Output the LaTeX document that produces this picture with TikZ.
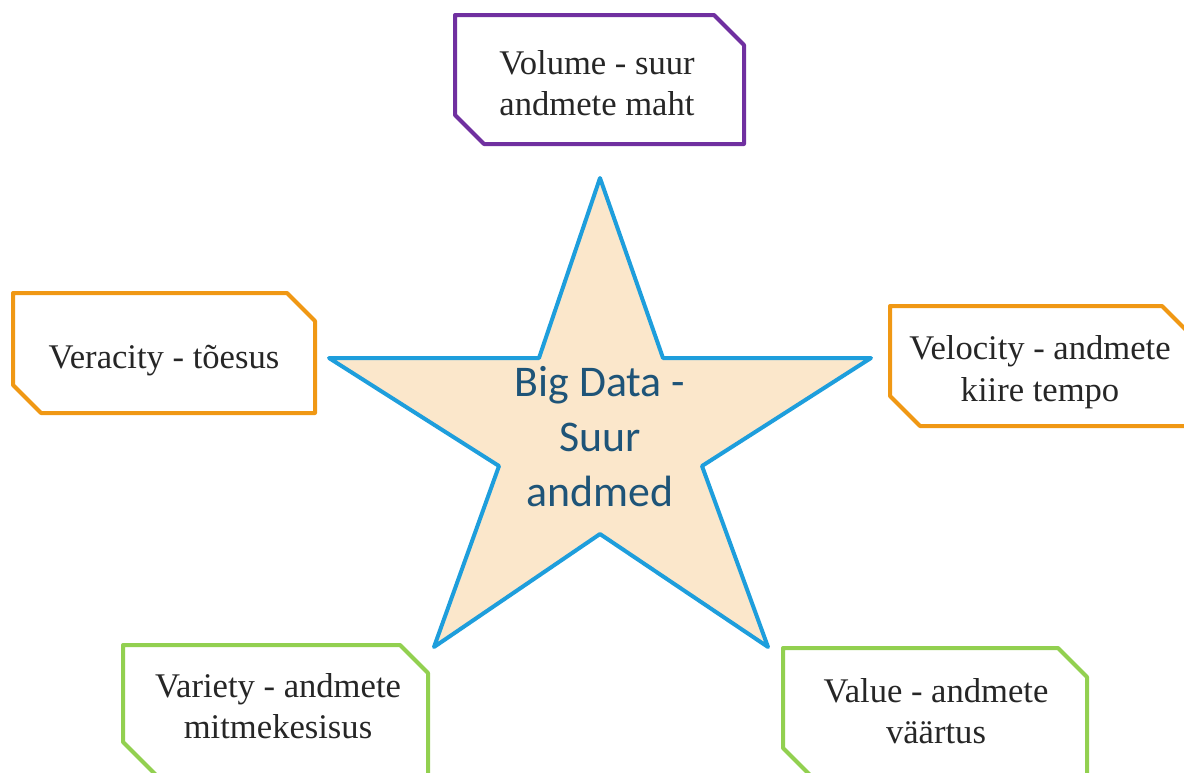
\documentclass[tikz,border=0pt]{standalone}
\usepackage{fontspec}
\setmainfont{Liberation Serif}
\newfontfamily\starfont{Carlito}
\definecolor{vpurple}{RGB}{112,48,160}
\definecolor{vorange}{RGB}{240,152,20}
\definecolor{vgreen}{RGB}{146,208,80}
\definecolor{starblue}{RGB}{30,158,220}
\definecolor{starfill}{RGB}{251,231,203}
\definecolor{startext}{RGB}{30,84,120}
\begin{document}
\begin{tikzpicture}[x=0.5pt,y=-0.5pt,line join=round,line cap=round,
	frame/.style={line width=2pt,fill=white},
	lbl/.style={align=center,inner sep=0pt,text=black!85,font=\fontsize{17.3}{20.8}\selectfont},
	starlbl/.style={align=center,inner sep=0pt,text=startext,font=\starfont\fontsize{21.9}{27.5}\selectfont}]
	\clip (0,0) rectangle (1184,772);
	% tipud ja nurgad
	\path
	(600,178) coordinate (T)
	(663,358) coordinate (TR)
	(871,358) coordinate (R)
	(702,466) coordinate (RI)
	(768,647) coordinate (BR)
	(600,534) coordinate (B)
	(434,647) coordinate (BL)
	(499,466) coordinate (LI)
	(329,358) coordinate (L)
	(539,358) coordinate (TL);
	% taht keskel
	\draw[line width=2pt,draw=starblue,fill=starfill] (T)--(TR)--(R)--(RI)--(BR)--(B)--(BL)--(LI)--(L)--(TL)--cycle;
	\node[starlbl] (big) at (600,437) {Big Data -\\Suur\\andmed};
	% kastid, lõigatud nurgad
	\draw[frame,draw=vpurple] (455,15)--(714,15)--(744,45)--(744,144)--(484,144)--(455,115)--cycle;
	\node[lbl] (volume) at (597,83) {Volume - suur\\andmete maht};
	\draw[frame,draw=vorange] (13,293)--(287,293)--(315,321)--(315,413)--(41,413)--(13,385)--cycle;
	\node[lbl] (veracity) at (164,361) {Veracity - tõesus};
	\draw[frame,draw=vorange] (890,306)--(1162,306)--(1192,336)--(1192,426)--(920,426)--(890,396)--cycle;
	\node[lbl] (velocity) at (1040,372) {Velocity - andmete\\kiire tempo};
	\draw[frame,draw=vgreen] (123,645)--(400,645)--(428,673)--(428,778)--(159,778)--(123,742)--cycle;
	\node[lbl] (variety) at (278,706) {Variety - andmete\\mitmekesisus};
	\draw[frame,draw=vgreen] (783,648)--(1058,648)--(1087,677)--(1087,778)--(813,778)--(783,748)--cycle;
	\node[lbl] (value) at (936,711) {Value - andmete\\väärtus};
\end{tikzpicture}
\end{document}
